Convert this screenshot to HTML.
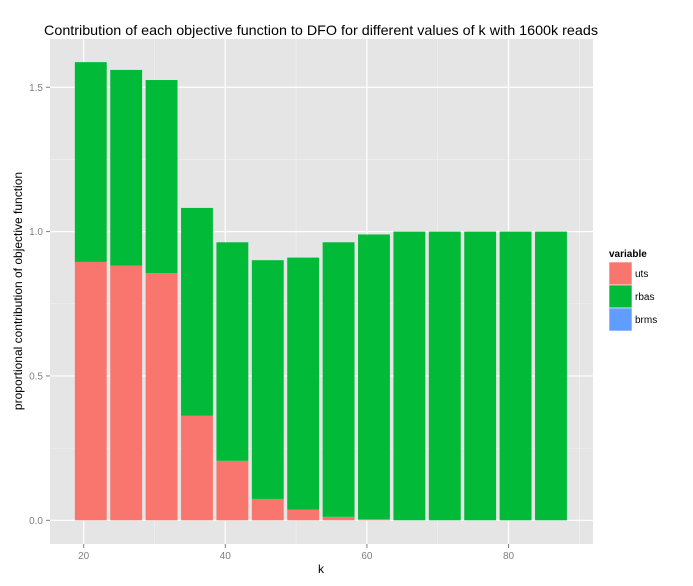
<!DOCTYPE html>
<html><head><meta charset="utf-8"><style>body{margin:0;background:#fff}svg{display:block;font-family:"Liberation Sans",Arial,sans-serif}</style></head>
<body>
<svg id="c" width="693" height="586"></svg>
<script>
const ks=[21,26,31,36,41,46,51,56,61,66,71,76,81,86];
const uts=[0.895,0.882,0.856,0.362,0.206,0.074,0.037,0.012,0.004,0,0,0,0,0];
const rbas=[0.692,0.678,0.669,0.720,0.757,0.827,0.873,0.951,0.986,1,1,1,1,1];
const brms=[0,0,0,0,0,0,0,0,0,0,0,0,0,0];
const xTicks=[20,40,60,80];
const yTicks=[0,0.5,1,1.5];
const yTickLabels=["0.0","0.5","1.0","1.5"];
const NS="http://www.w3.org/2000/svg";
const svg=document.getElementById('c');
const L=50,R=593,T=39,B=544;
const X=k=>83.7+(k-20)*7.08;
const Y=v=>520.3-v*288.7;
function mk(t,a,txt){const e=document.createElementNS(NS,t);for(const k in a)e.setAttribute(k,a[k]);if(txt!=null)e.textContent=txt;svg.appendChild(e);return e;}
let e=mk('rect',{x:L,y:T,width:R-L,height:B-T,fill:'#e5e5e5'});


for(let i=0;i<yTicks.length-1;i++){const v=(yTicks[i]+yTicks[i+1])/2;mk('line',{x1:L,x2:R,y1:Y(v),y2:Y(v),stroke:'#f2f2f2','stroke-width':0.6});}
for(let i=0;i<xTicks.length;i++){const v=xTicks[i]+10;if(X(v)<R)mk('line',{x1:X(v),x2:X(v),y1:T,y2:B,stroke:'#f2f2f2','stroke-width':0.6});}
yTicks.forEach((v,i)=>{mk('line',{x1:L,x2:R,y1:Y(v),y2:Y(v),stroke:'#fff','stroke-width':1.2});
mk('line',{x1:L-4,x2:L,y1:Y(v),y2:Y(v),stroke:'#7f7f7f'});
e=mk('text',{x:L-7,y:Y(v)+3.5,'text-anchor':'end','font-size':10,fill:'#7f7f7f'},yTickLabels[i]);

});
xTicks.forEach(v=>{mk('line',{x1:X(v),x2:X(v),y1:T,y2:B,stroke:'#fff','stroke-width':1.2});
mk('line',{x1:X(v),x2:X(v),y1:B,y2:B+4,stroke:'#7f7f7f'});
e=mk('text',{x:X(v),y:B+15,'text-anchor':'middle','font-size':10,fill:'#7f7f7f'},String(v));

});
const bw=4.5*7.08;
ks.forEach((k,i)=>{const x=X(k)-bw/2;
e=mk('rect',{x:x,y:Y(uts[i]),width:bw,height:Y(0)-Y(uts[i]),fill:'#f8766d'});


e=mk('rect',{x:x,y:Y(uts[i]+rbas[i]),width:bw,height:Y(uts[i])-Y(uts[i]+rbas[i]),fill:'#00ba38'});


if(brms[i]>0){e=mk('rect',{x:x,y:Y(uts[i]+rbas[i]+brms[i]),width:bw,height:Y(uts[i]+rbas[i])-Y(uts[i]+rbas[i]+brms[i]),fill:'#619cff'});

}
});
e=mk('text',{x:44,y:35,'font-size':14,fill:'#000',textLength:554,lengthAdjust:'spacingAndGlyphs'},'Contribution of each objective function to DFO for different values of k with 1600k reads');


e=mk('text',{x:321,y:573,'text-anchor':'middle','font-size':12,fill:'#000'},'k');


e=mk('text',{x:0,y:0,'text-anchor':'middle','font-size':12,fill:'#000',transform:'translate(22,291) rotate(-90)'},'proportional contribution of objective function');


e=mk('text',{x:609,y:257,'font-size':10,'font-weight':'bold',fill:'#000'},'variable');


[['uts','#f8766d'],['rbas','#00ba38'],['brms','#619cff']].forEach((d,i)=>{const y=262+i*23;
e=mk('rect',{x:609,y:y,width:23,height:23,fill:d[1],stroke:'#fff','stroke-width':0.6});


e=mk('text',{x:635,y:y+15,'font-size':10,fill:'#000'},d[0]);

});
</script>
</body></html>
